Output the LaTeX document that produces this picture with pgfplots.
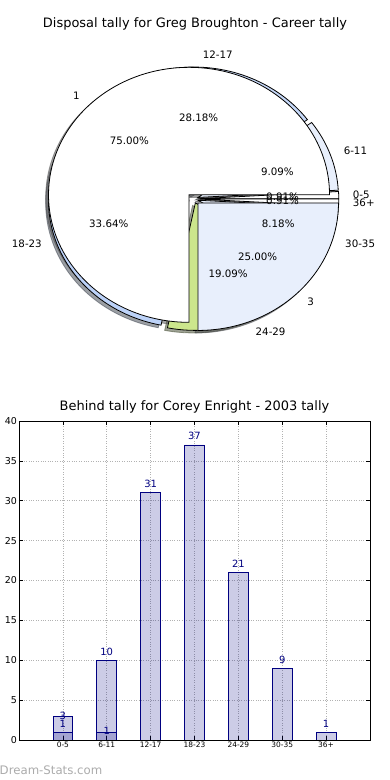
\documentclass[border=0pt]{standalone}
\usepackage{fontspec}
\setmainfont{DejaVu Sans}
\usepackage{pgfplots}
\pgfplotsset{compat=1.18}
\definecolor{navyb}{RGB}{0,0,128}
\definecolor{pA}{RGB}{255,255,255}
\definecolor{pB}{RGB}{232,239,252}
\definecolor{pC}{RGB}{198,216,248}
\definecolor{pD}{RGB}{188,210,248}
\definecolor{pE}{RGB}{204,230,140}
\definecolor{pF}{RGB}{232,239,252}
\definecolor{pG}{RGB}{255,255,255}
\def\RX{140.5bp}\def\RY{127.5bp}
\def\eA{0.034}\def\eB{0.045}
\newcommand\piefont{\fontsize{10.3}{12}\selectfont}
% wedge: start, end, explode, offset, style
\newcommand\drawwedge[5]{%
  \pgfmathsetmacro\wm{(#1+#2)/2}%
  \pgfmathsetmacro\wvx{#3*cos(\wm)+#4}%
  \pgfmathsetmacro\wvy{#3*sin(\wm)+#4}%
  \pgfmathsetmacro\wsx{\wvx+cos(#1)}%
  \pgfmathsetmacro\wsy{\wvy+sin(#1)}%
  \path[#5] (axis cs:\wvx,\wvy) -- (axis cs:\wsx,\wsy)
     arc[start angle=#1, end angle=#2, x radius=\RX, y radius=\RY] -- cycle;
}
% texts: start, end, explode, label, value, total
\newcommand\wedgetext[6]{%
  \pgfmathsetmacro\wm{(#1+#2)/2}%
  \pgfmathsetmacro\wlx{(#3+1.1)*cos(\wm)}%
  \pgfmathsetmacro\wly{(#3+1.1)*sin(\wm)}%
  \pgfmathsetmacro\wpx{(#3+0.6)*cos(\wm)}%
  \pgfmathsetmacro\wpy{(#3+0.6)*sin(\wm)}%
  \pgfmathsetmacro\wpct{#5*100/#6}%
  \ifdim\wlx pt>0pt \def\wanc{west}\else\def\wanc{east}\fi
  \node[anchor=\wanc, inner sep=0pt, font=\piefont] at (axis cs:\wlx,\wly) {#4};
  \node[anchor=center, inner sep=0pt, font=\piefont] at (axis cs:\wpx,\wpy)
     {\pgfmathprintnumber[fixed,fixed zerofill,precision=2,assume math mode=true]{\wpct}\%};
}
\begin{document}
\begin{tikzpicture}
\path[use as bounding box] (0,0) rectangle (390bp,780bp);
% ---------------- pie ----------------
\begin{axis}[
  at={(0bp,380bp)}, anchor=south west,
  x=140.5bp, y=127.5bp,
  xmin=-1.3772, xmax=1.3986, ymin=-1.5773, ymax=1.5600,
  hide axis, clip=false,
  title={Disposal tally for Greg Broughton - Career tally},
  title style={at={(0.5,1)}, anchor=base, yshift=-33bp, inner sep=0pt,
    font=\fontsize{13}{15}\selectfont},
]
\pgfplotsextra{
  % shadows
  \gdef\ang{0}
  \foreach \lab/\val/\col in {0-5/1/pA, 6-11/10/pB, 12-17/31/pC, 18-23/37/pD, 24-29/21/pE, 30-35/9/pF, 36+/1/pG}{
    \pgfmathsetmacro\nb{\ang+\val*360/110}
    \drawwedge{\ang}{\nb}{\eA}{-0.02}{fill=\col!30!black, fill opacity=0.5, draw=\col!30!black, draw opacity=0.5, line width=0.8bp}
    \xdef\ang{\nb}
  }
  \gdef\ang{0}
  \foreach \lab/\val/\col in {1/3/pA, 3/1/pB}{
    \pgfmathsetmacro\nb{\ang+\val*360/4}
    \drawwedge{\ang}{\nb}{\eB}{-0.02}{fill=\col!30!black, fill opacity=0.5, draw=\col!30!black, draw opacity=0.5, line width=0.8bp}
    \xdef\ang{\nb}
  }
  % wedges
  \gdef\ang{0}
  \foreach \lab/\val/\col in {0-5/1/pA, 6-11/10/pB, 12-17/31/pC, 18-23/37/pD, 24-29/21/pE, 30-35/9/pF, 36+/1/pG}{
    \pgfmathsetmacro\nb{\ang+\val*360/110}
    \drawwedge{\ang}{\nb}{\eA}{0}{fill=\col, draw=black, line width=0.8bp}
    \xdef\ang{\nb}
  }
  \gdef\ang{0}
  \foreach \lab/\val/\col in {1/3/pA, 3/1/pB}{
    \pgfmathsetmacro\nb{\ang+\val*360/4}
    \drawwedge{\ang}{\nb}{\eB}{0}{fill=\col, draw=black, line width=0.8bp}
    \xdef\ang{\nb}
  }
  % texts
  \gdef\ang{0}
  \foreach \lab/\val in {0-5/1, 6-11/10, 12-17/31, 18-23/37, 24-29/21, 30-35/9, 36+/1}{
    \pgfmathsetmacro\nb{\ang+\val*360/110}
    \wedgetext{\ang}{\nb}{\eA}{\lab}{\val}{110}
    \xdef\ang{\nb}
  }
  \gdef\ang{0}
  \foreach \lab/\val in {1/3, 3/1}{
    \pgfmathsetmacro\nb{\ang+\val*360/4}
    \wedgetext{\ang}{\nb}{\eB}{\lab}{\val}{4}
    \xdef\ang{\nb}
  }
}
\end{axis}
% ---------------- bars ----------------
\begin{axis}[
  at={(19bp,40bp)}, anchor=south west,
  width=351bp, height=319bp, scale only axis,
  xmin=-1, xmax=7, ymin=0, ymax=40,
  xtick={0,1,2,3,4,5,6},
  xticklabels={0-5,6-11,12-17,18-23,24-29,30-35,36+},
  ytick={0,5,10,15,20,25,30,35,40},
  grid=major,
  major grid style={dotted, gray!60, line width=0.7bp},
  tick align=inside, major tick length=4bp,
  tick style={black, line width=0.6bp},
  axis line style={line width=0.8bp},
  xticklabel style={font=\fontsize{7.5}{9}\selectfont, inner sep=1.5bp},
  yticklabel style={font=\fontsize{9.5}{11}\selectfont, inner sep=2bp},
  /pgf/number format/assume math mode=true,
  title={Behind tally for Corey Enright - 2003 tally},
  title style={at={(0.5,1)}, anchor=base, yshift=5bp, inner sep=0pt,
    font=\fontsize{13}{15}\selectfont},
]
\addplot[ybar, bar width=0.45, bar shift=0pt, fill=navyb, fill opacity=0.2,
  draw=navyb, line width=0.8bp]
  coordinates {(0,3) (1,10) (2,31) (3,37) (4,21) (5,9) (6,1)};
\addplot[ybar, bar width=0.45, bar shift=0pt, fill=navyb, fill opacity=0.2,
  draw=navyb, line width=0.8bp]
  coordinates {(0,1) (1,1)};
\addplot[draw=none, mark=none, nodes near coords, point meta=explicit symbolic,
  every node near coord/.style={text=navyb, font=\fontsize{10}{11}\selectfont,
    anchor=base, inner sep=0pt, yshift=5bp}]
  coordinates {(0,2)[3] (0,1)[1] (1,10)[10] (1,0)[1] (2,31)[31] (3,37)[37]
    (4,21)[21] (5,9)[9] (6,1)[1]};
\end{axis}
\node[anchor=base west, inner sep=0pt, text=black!33, font=\fontsize{11.8}{13}\selectfont]
  at (-0.5bp,6bp) {Dream-Stats.com};
\end{tikzpicture}
\end{document}
